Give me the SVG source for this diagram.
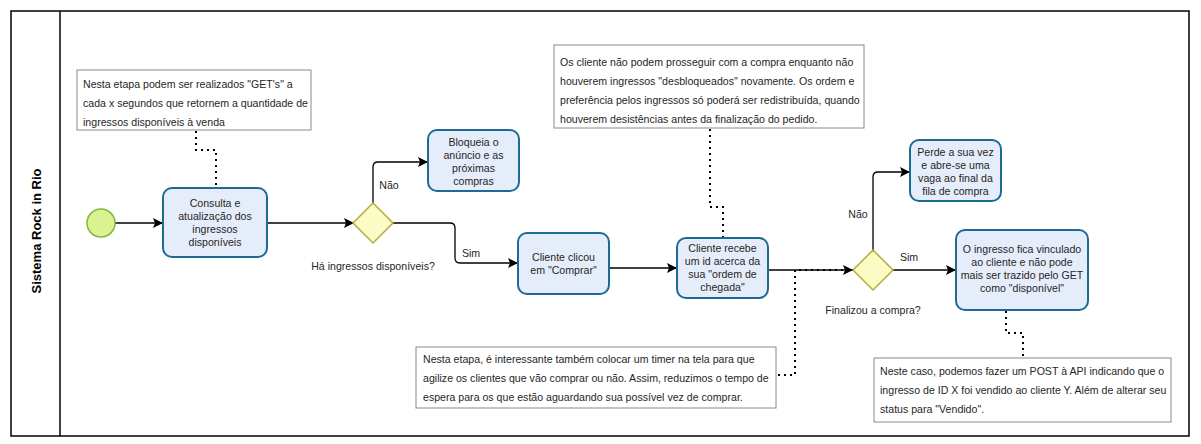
<svg xmlns="http://www.w3.org/2000/svg" width="1201" height="444" viewBox="0 0 1201 444">
<defs>
<marker id="arr" viewBox="0 0 10 10" refX="10" refY="5" markerWidth="10" markerHeight="10" markerUnits="userSpaceOnUse" orient="auto">
<path d="M0,0 L10,5 L0,10 L2,5 Z" fill="#000"/>
</marker>
<style>
text{font-family:"Liberation Sans",Arial,sans-serif;font-size:10.6px;fill:#262626}
.task{fill:#e6edfa;stroke:#1d6a94;stroke-width:2}
.gw{fill:#fbfbc6;stroke:#b3ad3e;stroke-width:1.5}
.note{fill:#fff;stroke:#8a8a8a;stroke-width:1}
.flow{fill:none;stroke:#000;stroke-width:1.3;marker-end:url(#arr)}
.assoc{fill:none;stroke:#000;stroke-width:2;stroke-dasharray:2 4}
.c{text-anchor:middle}
.pool{fill:#fff;stroke:#000;stroke-width:1.5}
</style>
</defs>
<rect width="1201" height="444" fill="#fff"/>
<g id="pool">
<rect class="pool" x="11" y="11" width="1178" height="425"/>
<line x1="60" y1="11" x2="60" y2="436" stroke="#000" stroke-width="1.5"/>
<text transform="translate(41,231) rotate(-90)" class="c" style="font-weight:bold;font-size:13px;fill:#000">Sistema Rock in Rio</text>
</g>
<g id="connectors">
<path class="flow" d="M115,223 H163"/>
<path class="flow" d="M267,223 H354"/>
<path class="flow" d="M373,203 V167 Q373,162 378,162 H428"/>
<path class="flow" d="M393,223 H450 Q455,223 455,228 V258 Q455,263 460,263 H518"/>
<path class="flow" d="M609,268 H677"/>
<path class="flow" d="M768,270 H853"/>
<path class="flow" d="M873,250 V177 Q873,172 878,172 H910"/>
<path class="flow" d="M893,270 H956"/>
<path class="assoc" d="M196,131 V150 H216 V187"/>
<path class="assoc" d="M710,129 V207 H723 V237"/>
<path class="assoc" d="M778,375 H795 V270 H846"/>
<path class="assoc" d="M1006,311 V333 H1023 V357"/>
<text x="389" y="189" class="c">Não</text>
<text x="471" y="257" class="c">Sim</text>
<text x="858" y="218" class="c">Não</text>
<text x="909" y="261" class="c">Sim</text>
</g>
<g id="start">
<circle cx="101" cy="223" r="14" fill="#dbf291" stroke="#80b83c" stroke-width="1.5"/>
</g>
<g id="task1">
<rect class="task" x="163" y="188" width="104" height="69" rx="9"/>
<text class="c" x="215" y="207">Consulta e</text>
<text class="c" x="215" y="220">atualização dos</text>
<text class="c" x="215" y="233">ingressos</text>
<text class="c" x="215" y="246">disponíveis</text>
</g>
<g id="note1">
<rect class="note" x="77" y="70" width="234" height="60"/>
<text x="83" y="88">Nesta etapa podem ser realizados "GET's" a</text>
<text x="83" y="107">cada x segundos que retornem a quantidade de</text>
<text x="83" y="126">ingressos disponíveis à venda</text>
</g>
<g id="gw1">
<path class="gw" d="M373,203 L393,223 L373,243 L353,223 Z"/>
<text class="c" x="373" y="270">Há ingressos disponíveis?</text>
</g>
<g id="task-bloqueia">
<rect class="task" x="428" y="130" width="91" height="61" rx="9"/>
<text class="c" x="473.5" y="146">Bloqueia o</text>
<text class="c" x="473.5" y="159">anúncio e as</text>
<text class="c" x="473.5" y="172">próximas</text>
<text class="c" x="473.5" y="185">compras</text>
</g>
<g id="task-clicou">
<rect class="task" x="518" y="233" width="91" height="61" rx="9"/>
<text class="c" x="563.5" y="261">Cliente clicou</text>
<text class="c" x="563.5" y="274">em "Comprar"</text>
</g>
<g id="task-recebe">
<rect class="task" x="677" y="238" width="91" height="60" rx="9"/>
<text class="c" x="722.5" y="252">Cliente recebe</text>
<text class="c" x="722.5" y="265">um id acerca da</text>
<text class="c" x="722.5" y="278">sua "ordem de</text>
<text class="c" x="722.5" y="291">chegada"</text>
</g>
<g id="note2">
<rect class="note" x="554" y="45" width="310" height="83"/>
<text x="560" y="66">Os cliente não podem prosseguir com a compra enquanto não</text>
<text x="560" y="85">houverem ingressos "desbloqueados" novamente. Os ordem e</text>
<text x="560" y="104">preferência pelos ingressos só poderá ser redistribuída, quando</text>
<text x="560" y="123">houverem desistências antes da finalização do pedido.</text>
</g>
<g id="note3">
<rect class="note" x="416" y="347" width="360" height="61"/>
<text x="423" y="363">Nesta etapa, é interessante também colocar um timer na tela para que</text>
<text x="423" y="382">agilize os clientes que vão comprar ou não. Assim, reduzimos o tempo de</text>
<text x="423" y="401">espera para os que estão aguardando sua possível vez de comprar.</text>
</g>
<g id="gw2">
<path class="gw" d="M873,250 L893,270 L873,290 L853,270 Z"/>
<text class="c" x="873" y="314">Finalizou a compra?</text>
</g>
<g id="task-perde">
<rect class="task" x="910" y="140" width="91" height="61" rx="9"/>
<text class="c" x="955.5" y="156">Perde a sua vez</text>
<text class="c" x="955.5" y="169">e abre-se uma</text>
<text class="c" x="955.5" y="182">vaga ao final da</text>
<text class="c" x="955.5" y="195">fila de compra</text>
</g>
<g id="task-vinculado">
<rect class="task" x="956" y="230" width="132" height="80" rx="9"/>
<text class="c" x="1022" y="253">O ingresso fica vinculado</text>
<text class="c" x="1022" y="266">ao cliente e não pode</text>
<text class="c" x="1022" y="279">mais ser trazido pelo GET</text>
<text class="c" x="1022" y="292">como "disponível"</text>
</g>
<g id="note4">
<rect class="note" x="874" y="358" width="297" height="64"/>
<text x="880" y="375">Neste caso, podemos fazer um POST à API indicando que o</text>
<text x="880" y="394">ingresso de ID X foi vendido ao cliente Y. Além de alterar seu</text>
<text x="880" y="413">status para "Vendido".</text>
</g>
</svg>
